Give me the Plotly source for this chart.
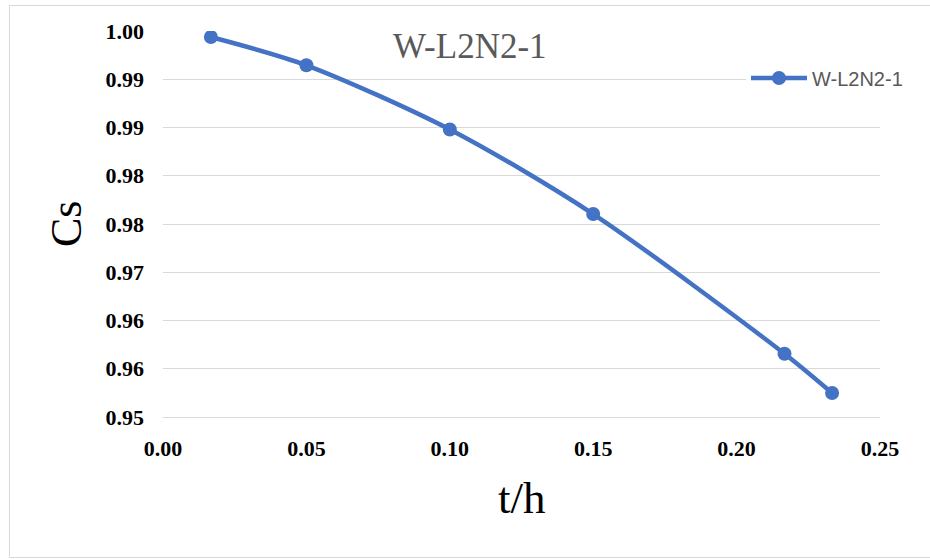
import plotly.graph_objects as go

# Data
t_h = [0.0167, 0.05, 0.10, 0.15, 0.2167, 0.2333]
cs = [0.99922, 0.99556, 0.98725, 0.97629, 0.95819, 0.95310]
series_name = "W-L2N2-1"
y_tickvals = [0.95, 0.95625, 0.9625, 0.96875, 0.975, 0.98125, 0.9875, 0.99375, 1.0]
y_ticktext = ["0.95", "0.96", "0.96", "0.97", "0.98", "0.98", "0.99", "0.99", "1.00"]
x_tickvals = [0.00, 0.05, 0.10, 0.15, 0.20, 0.25]
x_ticktext = ["0.00", "0.05", "0.10", "0.15", "0.20", "0.25"]

BLUE = "#4472C4"
GRID = "#d9d9d9"
SERIF = "Liberation Serif, Times New Roman, serif"

W, H = 930, 559
L, R, T, B = 163, 50, 31, 142
pw, ph = W - L - R, H - T - B


def px_x(x):
    return (x - L) / pw


def px_y(y):
    return (H - B - y) / ph


fig = go.Figure()
fig.add_trace(go.Scatter(
    x=t_h, y=cs, name=series_name, mode="lines+markers",
    line=dict(color=BLUE, width=4.5, shape="spline", smoothing=0.8),
    marker=dict(color=BLUE, size=14),
))

fig.update_layout(
    width=W, height=H,
    margin=dict(l=L, r=R, t=T, b=B, pad=0),
    paper_bgcolor="white", plot_bgcolor="white",
    showlegend=True,
    legend=dict(
        x=px_x(746), y=px_y(78), xanchor="left", yanchor="middle",
        font=dict(family="Liberation Sans, Arial, sans-serif", size=20, color="#595959"),
        bgcolor="rgba(255,255,255,1)", itemwidth=56,
    ),
    xaxis=dict(
        range=[0, 0.25], tickvals=x_tickvals, ticktext=x_ticktext,
        showgrid=False, zeroline=False, showline=True, linecolor=GRID, linewidth=1,
        ticks="", ticklabelstandoff=12,
        tickfont=dict(family=SERIF, size=22, color="black", weight="bold"),
    ),
    yaxis=dict(
        range=[0.95, 1.0], tickvals=y_tickvals, ticktext=y_ticktext,
        showgrid=True, gridcolor=GRID, gridwidth=1, zeroline=False, showline=False,
        ticks="", ticklabelstandoff=18,
        tickfont=dict(family=SERIF, size=22, color="black", weight="bold"),
    ),
    annotations=[
        dict(text=series_name, x=px_x(470), y=px_y(46), xref="paper", yref="paper",
             showarrow=False, xanchor="center", yanchor="middle",
             font=dict(family=SERIF, size=35, color="#595959")),
        dict(text="t/h", x=0.5, y=px_y(498), xref="paper", yref="paper",
             showarrow=False, xanchor="center", yanchor="middle",
             font=dict(family=SERIF, size=45, color="black")),
        dict(text="Cs", x=px_x(66), y=0.5, xref="paper", yref="paper",
             showarrow=False, xanchor="center", yanchor="middle", textangle=-90,
             font=dict(family=SERIF, size=44, color="black")),
    ],
    shapes=[
        dict(type="rect", xref="paper", yref="paper",
             x0=px_x(9.5), x1=px_x(940), y0=px_y(557.5), y1=px_y(5.5),
             line=dict(color=GRID, width=1), fillcolor="rgba(0,0,0,0)", layer="below"),
    ],
)

fig.write_html("out.html")
